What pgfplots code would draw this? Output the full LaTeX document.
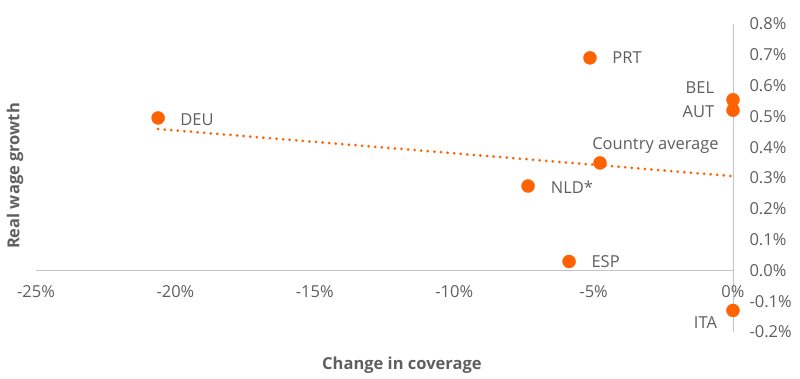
\documentclass[border=0pt]{standalone}
\usepackage{pgfplots}
\pgfplotsset{compat=1.18}
\usepackage{fontspec}
\setmainfont{Open Sans}
\definecolor{ingorange}{HTML}{FF6200}
\definecolor{txtgray}{HTML}{5F5F5F}
\definecolor{axgray}{HTML}{C4C4C4}
\begin{document}
\begin{tikzpicture}
\begin{axis}[
  scale only axis, width=697pt, height=308pt,
  xmin=-25, xmax=0, ymin=-0.2, ymax=0.8,
  axis x line=middle, axis y line=right,
  hide obscured x ticks=false, hide obscured y ticks=false,
  axis line style={axgray, line width=1pt, -},
  major tick length=0pt,
  xtick={-25,-20,-15,-10,-5,0},
  ytick={-0.2,-0.1,0,0.1,0.2,0.3,0.4,0.5,0.6,0.7,0.8},
  /pgf/number format/assume math mode=true,
  xticklabel={\pgfmathprintnumber{\tick}\%},
  yticklabel={\pgfmathprintnumber[fixed,precision=1,zerofill]{\tick}\%},
  ticklabel style={font=\fontsize{16.5}{19}\selectfont, text=txtgray},
  xticklabel style={anchor=north, yshift=-12pt},
  yticklabel style={anchor=west, xshift=13pt},
  xlabel={Change in coverage},
  label style={font=\fontsize{16.5}{19}\selectfont\bfseries, text=txtgray},
  xlabel style={at={(axis description cs:0.525,0)}, anchor=center, yshift=-33pt},
  clip=false,
]
\addplot[ingorange, line width=3pt, line cap=round, dash pattern=on 0pt off 6.6pt]
  coordinates {(-20.62,0.459) (0,0.306)};
\addplot[only marks, mark=*, mark size=6.5pt, color=ingorange, mark options={fill=ingorange, draw=ingorange}]
  coordinates {
    (-20.62,0.495)
    (-5.13,0.690)
    (0,0.554)
    (0,0.520)
    (-4.77,0.349)
    (-7.35,0.274)
    (-5.88,0.029)
    (0,-0.130)
  };
\begin{scope}[every node/.style={font=\fontsize{16.5}{19}\selectfont, text=txtgray}]
\node[anchor=west] at (axis cs:-19.95,0.489) {DEU};
\node[anchor=west] at (axis cs:-4.45,0.690) {PRT};
\node[anchor=east] at (axis cs:-0.55,0.594) {BEL};
\node[anchor=east] at (axis cs:-0.55,0.516) {AUT};
\node[anchor=center] at (axis cs:-2.78,0.405) {Country average};
\node[anchor=west] at (axis cs:-6.66,0.270) {NLD*};
\node[anchor=west] at (axis cs:-5.2,0.029) {ESP};
\node[anchor=east] at (axis cs:-0.45,-0.170) {ITA};
\node[anchor=center, rotate=90, font=\fontsize{16.5}{19}\selectfont\bfseries] at ([xshift=-21pt,yshift=156pt]axis description cs:0,0) {Real wage growth};
\end{scope}
\end{axis}
\pgfresetboundingbox
\path (-36pt,-46pt) rectangle (764pt,332pt);
\end{tikzpicture}
\end{document}
